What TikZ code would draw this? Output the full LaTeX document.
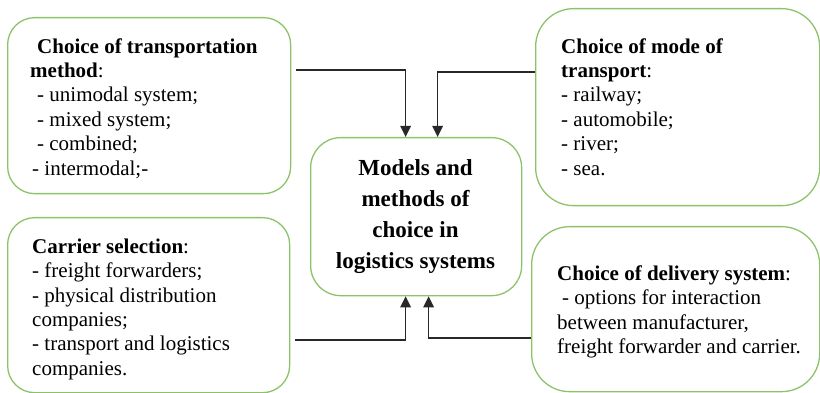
\documentclass[tikz,border=0pt]{standalone}
\usepackage{fontspec}
\setmainfont{Liberation Serif}
\usetikzlibrary{arrows.meta,calc}
\definecolor{boxgreen}{RGB}{140,195,105}
\definecolor{arrgray}{RGB}{40,40,40}
\begin{document}
\begin{tikzpicture}[x=1pt,y=-1pt,
  box/.style={draw=boxgreen,line width=1.3pt,anchor=north west,inner sep=0pt},
  side/.style={anchor=north west,inner sep=0pt,align=left,font=\fontsize{21}{24.4}\selectfont},
  arr/.style={draw=arrgray,line width=1.4pt,-{Triangle[length=11pt,width=10.5pt]}}]
\useasboundingbox (0,0) rectangle (820,393);
% boxes
\node[box,rounded corners=27pt,minimum width=283pt,minimum height=176pt] (tl) at (7,17) {};
\node[box,rounded corners=38pt,minimum width=284pt,minimum height=197pt] (tr) at (535,8) {};
\node[box,rounded corners=30pt,minimum width=211pt,minimum height=158pt] (ctr) at (310,137) {};
\node[box,rounded corners=27pt,minimum width=282pt,minimum height=175pt] (bl) at (7,217) {};
\node[box,rounded corners=38pt,minimum width=288pt,minimum height=165pt] (br) at (531,226) {};
% texts
\node[side] (tltext) at (30,38) {\rule{0pt}{15pt}\hspace*{7pt}\textbf{Choice of transportation}\\
\textbf{method}:\\
\hspace*{7pt}- unimodal system;\\
\hspace*{7pt}- mixed system;\\
\hspace*{7pt}- combined;\\
\hspace*{2pt}- intermodal;-};
\node[side] (trtext) at (561,38) {\rule{0pt}{15pt}\textbf{Choice of mode of}\\
\textbf{transport}:\\
- railway;\\
- automobile;\\
- river;\\
- sea.};
\node[side] (bltext) at (32,238) {\rule{0pt}{15pt}\textbf{Carrier selection}:\\
- freight forwarders;\\
- physical distribution\\
companies;\\
- transport and logistics\\
companies.};
\node[side] (brtext) at (557,265) {\rule{0pt}{15pt}\textbf{Choice of delivery system}:\\
\hspace*{5pt}- options for interaction\\
between manufacturer,\\
freight forwarder and carrier.};
\node[anchor=north,inner sep=0pt,align=center,font=\fontsize{23}{31}\selectfont\bfseries] (ctrtext) at (415.5,159) {\rule{0pt}{16pt}Models and\\ methods of\\ choice in\\ logistics systems};
% connectors
\draw[arr] ($(tl.north east)+(5,53)$) -| ([xshift=-10.5pt]ctr.north);
\draw[arr] ($(tr.north west)+(0,64)$) -| ([xshift=21.5pt]ctr.north);
\draw[arr] ($(bl.north east)+(5,123)$) -| ([xshift=-10.5pt]ctr.south);
\draw[arr] ($(br.north west)+(0,112)$) -| ([xshift=12.5pt]ctr.south);
\end{tikzpicture}
\end{document}
